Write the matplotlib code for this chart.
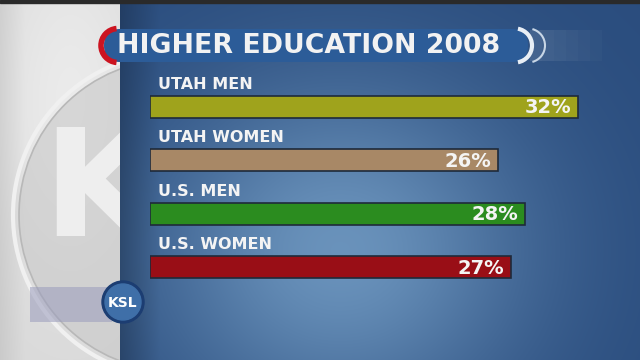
import matplotlib
matplotlib.use("Agg")
import matplotlib.pyplot as plt
import numpy as np
from matplotlib.patches import FancyBboxPatch, Rectangle, Circle, Arc

title = "HIGHER EDUCATION 2008"
groups = ["UTAH MEN", "UTAH WOMEN", "U.S. MEN", "U.S. WOMEN"]
percent = [32, 26, 28, 27]
bar_colors = ["#9fa31c", "#a88866", "#2b8c1f", "#990e16"]

FONT = "DejaVu Sans"

fig = plt.figure(figsize=(6.4, 3.6), dpi=100)

# ---- backdrop (pixel coordinates) ----
bg = fig.add_axes([0, 0, 1, 1])
bg.set_xlim(0, 640)
bg.set_ylim(360, 0)
bg.axis("off")

# grey left panel
yy, xx = np.mgrid[0:360, 0:130]
grey = 0.85 + 0.07 * np.exp(-((xx - 70) / 80.0) ** 2 - ((yy - 100) / 180.0) ** 2)
grey = grey - 0.06 * np.clip(1 - xx / 25.0, 0, 1)
bg.imshow(np.dstack([grey, grey, grey]), extent=(0, 130, 360, 0), zorder=0)
bg.add_patch(Circle((175, 215), 156, fc="#c9c9c9", ec="none", alpha=0.6, zorder=1))
bg.add_patch(Circle((175, 215), 162, fill=False, ec="#f0f0f0", lw=3, zorder=1))
bg.add_patch(Circle((175, 215), 156, fill=False, ec="#b8b8b8", lw=1.2, zorder=1))
bg.text(42, 236, "K", fontsize=108, fontweight="bold", family=FONT,
        color="#eeeeee", va="baseline", ha="left", zorder=1)

# blue panel
yy, xx = np.mgrid[0:360, 0:520]
x = xx + 120
glow = np.exp(-((x - 340) / 190.0) ** 2 - ((yy - 250) / 170.0) ** 2)
dark = np.array([0.11, 0.24, 0.44])
light = np.array([0.42, 0.58, 0.74])
w = np.clip(0.18 + 0.8 * glow, 0, 1)[..., None]
blue = dark * (1 - w) + light * w
edge = np.clip((x - 120) / 40.0, 0, 1)[..., None]
blue = blue * (0.78 + 0.22 * edge)
bg.imshow(blue, extent=(120, 640, 360, 0), zorder=2, aspect="auto")
bg.add_patch(Rectangle((0, 0), 640, 3, color="#2a2a2a", zorder=3))

# title band
for k in range(6):
    bg.add_patch(Rectangle((530 + k * 12, 30), 12, 31, color="white",
                           alpha=0.10 - k * 0.015, lw=0, zorder=3))
bg.add_patch(FancyBboxPatch((104, 29), 424, 33, boxstyle="round,pad=0,rounding_size=16",
                            fc="#2c5c98", ec="none", zorder=4))
bg.add_patch(Arc((118, 45.5), 34, 34, theta1=95, theta2=265, color="#cc1421", lw=4, zorder=5))
bg.add_patch(Arc((515, 45.5), 34, 34, theta1=-80, theta2=80, color="#e8eef5", lw=3, zorder=5))
bg.add_patch(Arc((528, 45.5), 34, 34, theta1=-75, theta2=75, color="#c8d6e6", lw=1.5, zorder=5))
bg.text(117, 46, title, fontsize=19.3, fontweight="bold", family=FONT,
        color="#f2f2f2", va="center", ha="left", zorder=6)

# KSL bug
bg.add_patch(Rectangle((30, 287), 82, 35, color="#9a9cbc", alpha=0.55, lw=0, zorder=3))
bg.add_patch(Circle((123, 302), 21, color="#1c3d72", zorder=5))
bg.add_patch(Circle((123, 302), 18, color="#3f6fa8", zorder=6))
bg.text(123, 303, "KSL", fontsize=10, fontweight="bold", family=FONT,
        color="white", ha="center", va="center", zorder=7)

# ---- bars ----
px_per_pct = 13.375
ax = fig.add_axes([150 / 640, 1 - 294 / 360, 490 / 640, 214 / 360])
ax.set_xlim(0, 490 / px_per_pct)
ax.set_ylim(3.5, -0.5)
ax.axis("off")
ax.patch.set_alpha(0)

pos = np.arange(len(groups))
ax.barh(pos, percent, height=0.41, color=bar_colors, edgecolor="#1e2a3a", linewidth=1.2)
for i, (g, v) in enumerate(zip(groups, percent)):
    ax.text(0.6, i - 0.42, g, fontsize=11.5, fontweight="bold", family=FONT,
            color="#f4f4f4", va="center", ha="left")
    ax.text(v - 0.5, i + 0.02, f"{v}%", fontsize=14, fontweight="bold", family=FONT,
            color="#f4f4f4", va="center", ha="right")

fig.savefig("out.png", dpi=100)
